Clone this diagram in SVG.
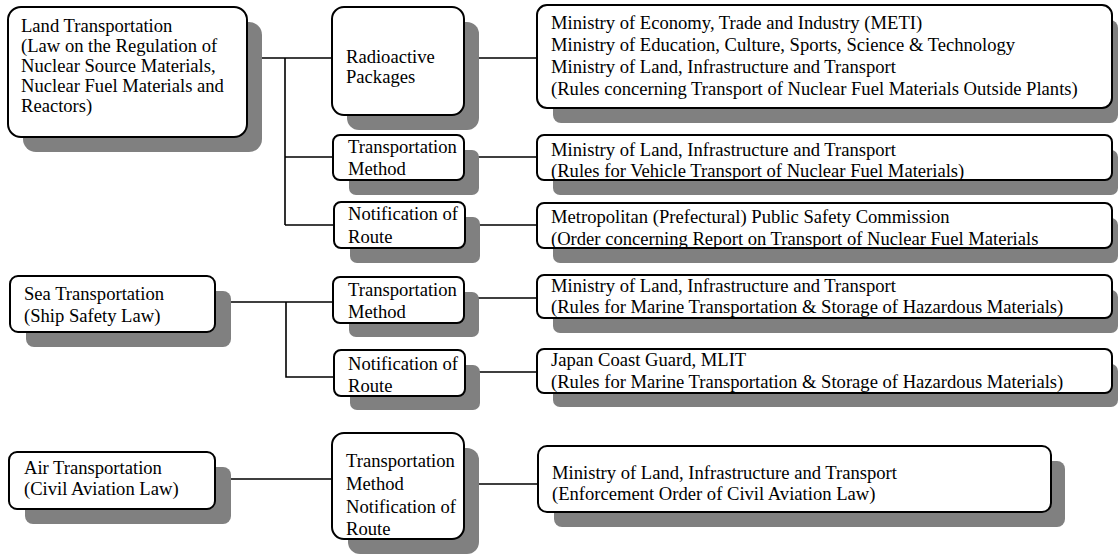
<svg xmlns="http://www.w3.org/2000/svg" width="1118" height="556" viewBox="0 0 1118 556">
<style>
.sh{fill:#808080;stroke:none}
.bx{fill:#fff;stroke:#000;stroke-width:2}
.t{font-family:"Liberation Serif","Times New Roman",serif;font-size:18.6px;fill:#000}
.c{stroke:#000;stroke-width:1.6;fill:none}
</style>
<rect width="1118" height="556" fill="#fff"/>
<g id="connectors">
<path class="c" d="M247 58H332M285 58V225M285 157H333M285 225H334M464 58H537M464 157H537M465 225H537"/>
<path class="c" d="M215 302H333M286 302V377H334M464 298H537M465 372H537"/>
<path class="c" d="M215 479H332M464 484H538"/>
</g>
<g id="land">
<rect class="sh" x="23" y="22" width="239" height="130" rx="13"/>
<rect class="bx" x="8" y="7" width="239" height="130" rx="13"/>
<text class="t" x="21" y="32">Land Transportation</text>
<text class="t" x="21" y="52">(Law on the Regulation of</text>
<text class="t" x="21" y="72">Nuclear Source Materials,</text>
<text class="t" x="21" y="92">Nuclear Fuel Materials and</text>
<text class="t" x="21" y="112">Reactors)</text>
</g>
<g id="radioactive">
<rect class="sh" x="347" y="22" width="132" height="108" rx="12"/>
<rect class="bx" x="332" y="7" width="132" height="108" rx="12"/>
<text class="t" x="346" y="63">Radioactive</text>
<text class="t" x="346" y="83">Packages</text>
</g>
<g id="meti">
<rect class="sh" x="553" y="20" width="565" height="103" rx="8"/>
<rect class="bx" x="537" y="5" width="575" height="103" rx="10"/>
<text class="t" x="551" y="29">Ministry of Economy, Trade and Industry (METI)</text>
<text class="t" x="551" y="51">Ministry of Education, Culture, Sports, Science &amp; Technology</text>
<text class="t" x="551" y="73">Ministry of Land, Infrastructure and Transport</text>
<text class="t" x="551" y="95">(Rules concerning Transport of Nuclear Fuel Materials Outside Plants)</text>
</g>
<g id="land-method">
<rect class="sh" x="349" y="150" width="130" height="45" rx="7"/>
<rect class="bx" x="333" y="135" width="131" height="45" rx="7"/>
<text class="t" x="348" y="153">Transportation</text>
<text class="t" x="348" y="175">Method</text>
</g>
<g id="vehicle">
<rect class="sh" x="553" y="150" width="565" height="45" rx="7"/>
<rect class="bx" x="537" y="135" width="575" height="45" rx="7"/>
<text class="t" x="551" y="156">Ministry of Land, Infrastructure and Transport</text>
<text class="t" x="551" y="177">(Rules for Vehicle Transport of Nuclear Fuel Materials)</text>
</g>
<g id="land-route">
<rect class="sh" x="350" y="217" width="130" height="46" rx="7"/>
<rect class="bx" x="334" y="202" width="131" height="46" rx="7"/>
<text class="t" x="348" y="220">Notification of</text>
<text class="t" x="348" y="243">Route</text>
</g>
<g id="metropolitan">
<rect class="sh" x="553" y="218" width="565" height="45" rx="7"/>
<rect class="bx" x="537" y="203" width="575" height="45" rx="7"/>
<text class="t" x="551" y="223">Metropolitan (Prefectural) Public Safety Commission</text>
<text class="t" x="551" y="245">(Order concerning Report on Transport of Nuclear Fuel Materials</text>
</g>
<g id="sea">
<rect class="sh" x="26" y="291" width="205" height="56" rx="8"/>
<rect class="bx" x="10" y="276" width="205" height="56" rx="8"/>
<text class="t" x="24" y="300">Sea Transportation</text>
<text class="t" x="24" y="322">(Ship Safety Law)</text>
</g>
<g id="sea-method">
<rect class="sh" x="349" y="292" width="130" height="45" rx="7"/>
<rect class="bx" x="333" y="277" width="131" height="46" rx="7"/>
<text class="t" x="348" y="296">Transportation</text>
<text class="t" x="348" y="318">Method</text>
</g>
<g id="marine1">
<rect class="sh" x="553" y="290" width="565" height="43" rx="7"/>
<rect class="bx" x="537" y="275" width="575" height="43" rx="7"/>
<text class="t" x="551" y="292">Ministry of Land, Infrastructure and Transport</text>
<text class="t" x="551" y="313">(Rules for Marine Transportation &amp; Storage of Hazardous Materials)</text>
</g>
<g id="sea-route">
<rect class="sh" x="350" y="365" width="130" height="45" rx="7"/>
<rect class="bx" x="334" y="350" width="131" height="46" rx="7"/>
<text class="t" x="348" y="370">Notification of</text>
<text class="t" x="348" y="392">Route</text>
</g>
<g id="marine2">
<rect class="sh" x="553" y="364" width="565" height="43" rx="7"/>
<rect class="bx" x="537" y="349" width="575" height="44" rx="7"/>
<text class="t" x="551" y="366">Japan Coast Guard, MLIT</text>
<text class="t" x="551" y="388">(Rules for Marine Transportation &amp; Storage of Hazardous Materials)</text>
</g>
<g id="air">
<rect class="sh" x="25" y="467" width="206" height="57" rx="8"/>
<rect class="bx" x="9" y="452" width="206" height="57" rx="8"/>
<text class="t" x="24" y="474">Air Transportation</text>
<text class="t" x="24" y="495">(Civil Aviation Law)</text>
</g>
<g id="air-method-route">
<rect class="sh" x="348" y="448" width="131" height="106" rx="12"/>
<rect class="bx" x="332" y="433" width="132" height="106" rx="12"/>
<text class="t" x="346" y="467">Transportation</text>
<text class="t" x="346" y="490">Method</text>
<text class="t" x="346" y="513">Notification of</text>
<text class="t" x="346" y="535">Route</text>
</g>
<g id="civil">
<rect class="sh" x="554" y="461" width="511" height="66" rx="8"/>
<rect class="bx" x="538" y="446" width="513" height="66" rx="9"/>
<text class="t" x="552" y="479">Ministry of Land, Infrastructure and Transport</text>
<text class="t" x="552" y="500">(Enforcement Order of Civil Aviation Law)</text>
</g>
</svg>
